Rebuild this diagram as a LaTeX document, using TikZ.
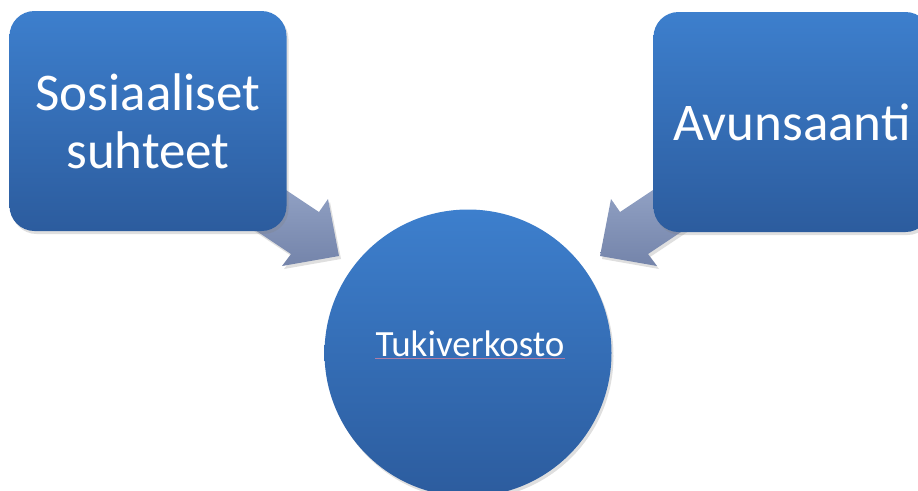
\documentclass[tikz,border=0pt]{standalone}
\usepackage{fontspec}
\setmainfont{Carlito}
\usetikzlibrary{shadows}
\definecolor{btop}{RGB}{61,127,205}
\definecolor{bbot}{RGB}{44,92,158}
\definecolor{atop}{RGB}{152,168,202}
\definecolor{abot}{RGB}{116,132,170}
\definecolor{ulc}{RGB}{175,125,165}
\tikzset{
  blockbox/.style={rectangle, rounded corners=25pt, minimum width=277pt, minimum height=220pt,
    top color=btop, bottom color=bbot, draw=none, text=white, align=center,
    font=\fontsize{53}{58}\selectfont,
    drop shadow={opacity=0.25, shadow xshift=2pt, shadow yshift=-3pt}},
  hubcircle/.style={circle, minimum size=287pt, top color=btop, bottom color=bbot, draw=none,
    drop shadow={opacity=0.25, shadow xshift=2pt, shadow yshift=-3pt}},
  blockarrow/.style={top color=atop, bottom color=abot, draw=none,
    drop shadow={opacity=0.25, shadow xshift=2pt, shadow yshift=-3pt}},
  hubtext/.style={text=white, inner sep=0pt, font=\fontsize{37}{40}\selectfont}
}
\begin{document}
\begin{tikzpicture}[x=1pt,y=-1pt]
\useasboundingbox (0,0) rectangle (918,490);
\clip (0,0) rectangle (918,490);
% block arrows
\path[blockarrow] (253,168) -- (319,212) -- (328,199) -- (339,256) -- (282,266) -- (291,254) -- (225,210) -- cycle;
\path[blockarrow] (686,168) -- (620,212) -- (611,199) -- (600,256) -- (657,266) -- (648,254) -- (714,210) -- cycle;
% boxes
\node[blockbox] (soc) at (148,121) {Sosiaaliset\\suhteet};
\node[blockbox] (avu) at (792,122) {Avunsaanti};
% hub
\node[hubcircle] (hub) at (468,353) {};
\node[hubtext, anchor=base] (tuki) at (470,356) {Tukiverkosto};
\draw[ulc, line width=1pt] ([yshift=-2.5pt]tuki.base west) -- ([yshift=-2.5pt]tuki.base east);
\end{tikzpicture}
\end{document}
